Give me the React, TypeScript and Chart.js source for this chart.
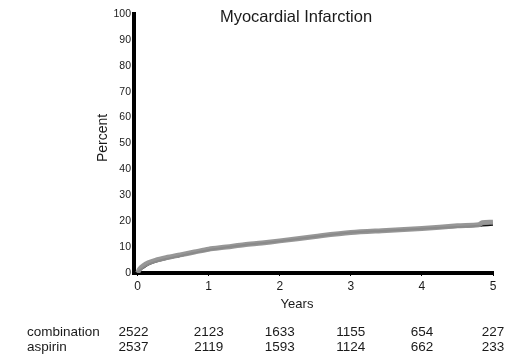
import React, { useEffect, useRef } from "react";
import { Chart, registerables } from "chart.js";

Chart.register(...registerables);

const titleText = "Myocardial Infarction";
const xTitle = "Years";
const yTitle = "Percent";
const xTicks = [0, 1, 2, 3, 4, 5];
const yTicks = [0, 10, 20, 30, 40, 50, 60, 70, 80, 90, 100];
const years = [0, 0.03, 0.08, 0.15, 0.25, 0.4, 0.6, 0.8, 1, 1.25, 1.5, 1.75, 2, 2.5, 3, 3.5, 4, 4.5, 4.8, 4.85, 5];
const combination = [0, 1.5, 2.8, 3.9, 4.9, 5.9, 7.0, 8.1, 9.2, 10.0, 10.9, 11.6, 12.4, 14.1, 15.6, 16.4, 17.2, 18.2, 18.6, 19.4, 19.6];
const aspirin = [0, 1.0, 2.0, 3.2, 4.3, 5.4, 6.6, 7.8, 8.9, 9.9, 10.8, 11.5, 12.3, 14.0, 15.6, 16.3, 17.1, 17.8, 18.2, 18.3, 18.6];
const tableRows = ["combination", "aspirin"];
const atRiskCombination = [2522, 2123, 1633, 1155, 654, 227];
const atRiskAspirin = [2537, 2119, 1593, 1124, 662, 233];

const FONT = "'Liberation Sans', Arial, Helvetica, sans-serif";

export default function App() {
  const ref = useRef<HTMLCanvasElement | null>(null);

  useEffect(() => {
    const canvas = ref.current;
    if (!canvas) return;

    const textPlugin = {
      id: "texts",
      afterDraw(chart: any) {
        const ctx = chart.ctx;
        const xs = chart.scales.x;
        ctx.save();
        ctx.fillStyle = "#1a1a1a";
        ctx.textBaseline = "middle";
        // title
        ctx.font = `16.5px ${FONT}`;
        ctx.textAlign = "center";
        ctx.fillText(titleText, 296, 17);
        // x title
        ctx.font = `13px ${FONT}`;
        ctx.fillText(xTitle, 297, 304);
        // y title
        ctx.save();
        ctx.translate(103, 138);
        ctx.rotate(-Math.PI / 2);
        ctx.font = `14px ${FONT}`;
        ctx.fillText(yTitle, 0, 0);
        ctx.restore();
        // table
        ctx.font = `13.5px ${FONT}`;
        const rows = [atRiskCombination, atRiskAspirin];
        rows.forEach((vals, r) => {
          const y = 332 + r * 15;
          ctx.textAlign = "left";
          ctx.fillText(tableRows[r], 27, y);
          ctx.textAlign = "center";
          vals.forEach((v, i) => {
            const px = xs.getPixelForValue(xTicks[i]) + (i === 0 ? -4 : 0);
            ctx.fillText(String(v), px, y);
          });
        });
        ctx.restore();
      },
    };

    const chart = new Chart(canvas, {
      type: "line",
      data: {
        datasets: [
          {
            label: "combination",
            data: years.map((x, i) => ({ x, y: combination[i] })),
            borderColor: "rgba(145,145,145,0.95)",
            borderWidth: 5,
            pointRadius: 0,
            tension: 0.3,
            order: 0,
          },
          {
            label: "aspirin",
            data: years.map((x, i) => ({ x, y: aspirin[i] })),
            borderColor: "#111",
            borderWidth: 2,
            pointRadius: 0,
            tension: 0.3,
            order: 1,
          },
        ],
      },
      options: {
        animation: false,
        responsive: false,
        maintainAspectRatio: false,
        layout: { padding: { left: 0, right: 35, top: 14, bottom: 0 } },
        plugins: {
          legend: { display: false },
          title: { display: false },
          tooltip: { enabled: false },
        },
        scales: {
          x: {
            type: "linear",
            min: -0.05,
            max: 5,
            afterBuildTicks: (s: any) => {
              s.ticks = xTicks.map((v) => ({ value: v }));
            },
            afterFit: (s: any) => {
              s.height = 82;
            },
            border: { display: true, width: 4, color: "#000" },
            grid: { drawOnChartArea: false, drawTicks: true, tickLength: 3, color: "#000", lineWidth: 1 },
            ticks: {
              color: "#1a1a1a",
              padding: 3,
              font: { family: FONT, size: 12 },
              maxRotation: 0,
              callback: (v: any) => String(v),
            },
          },
          y: {
            type: "linear",
            min: 0,
            max: 100,
            afterBuildTicks: (s: any) => {
              s.ticks = yTicks.map((v) => ({ value: v }));
            },
            afterFit: (s: any) => {
              s.width = 134;
            },
            border: { display: true, width: 4, color: "#000" },
            grid: { drawOnChartArea: false, drawTicks: true, tickLength: 2, color: "#000", lineWidth: 1 },
            ticks: {
              color: "#1a1a1a",
              padding: 1,
              font: { family: FONT, size: 10.5 },
              callback: (v: any) => String(v),
            },
          },
        },
      },
      plugins: [textPlugin],
    } as any);

    return () => chart.destroy();
  }, []);

  return (
    <div style={{ position: "absolute", left: 0, top: 0, width: 528, height: 355, background: "#fff" }}>
      <canvas ref={ref} width={528} height={355} style={{ width: 528, height: 355, display: "block" }} />
    </div>
  );
}
